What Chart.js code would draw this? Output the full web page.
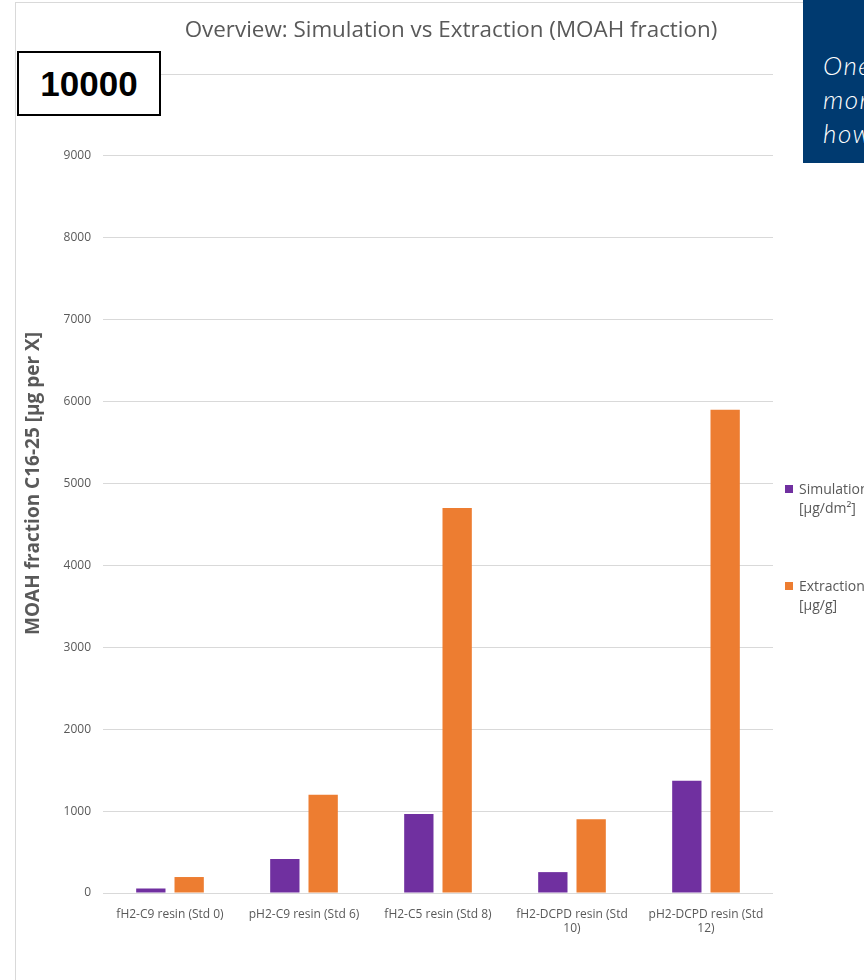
<!DOCTYPE html>
<html>
<head>
<meta charset="utf-8">
<script src="https://cdn.jsdelivr.net/npm/chart.js@4"></script>
<style>
  html, body { margin: 0; padding: 0; background: #fff; }
  body { width: 864px; height: 980px; overflow: hidden; position: relative; font-family: "Open Sans", sans-serif; }
  #frame { position: absolute; left: 15px; top: 2px; width: 900px; height: 1000px; border: 1px solid #d9d9d9; }
  #wrap { position: absolute; left: 0; top: 0; width: 786px; height: 980px; }
  #title { position: absolute; left: 0; width: 902px; top: 13px; text-align: center; font-size: 22.4px; color: #595959; }
  #maxbox { position: absolute; left: 17px; top: 51px; width: 140px; height: 61px; border: 2px solid #000; background: #fff;
            font-family: "Liberation Sans", Arial, sans-serif; font-weight: bold; font-size: 35px; line-height: 61px; text-align: center; color: #000; }
  #note { position: absolute; left: 803px; top: 0; width: 200px; height: 163px; background: #003a70; color: #fff;
          font-family: "Lato", sans-serif; font-style: italic; font-weight: 300; font-size: 26px; line-height: 34px;
          letter-spacing: 1.5px; padding: 48px 0 0 20px; box-sizing: border-box; white-space: nowrap; }
  #legend { position: absolute; left: 785px; top: 479px; font-size: 14px; color: #595959; line-height: 19px; }
  .item { position: relative; padding-left: 14px; width: 100px; }
  .item .sw { position: absolute; left: 0; top: 6px; width: 8px; height: 8px; }
</style>
</head>
<body>
<div id="frame"></div>
<div id="wrap"><canvas id="chart"></canvas></div>
<div id="title">Overview: Simulation vs Extraction (MOAH fraction)</div>
<div id="maxbox">10000</div>
<div id="note">One<br>more<br>how</div>
<div id="legend"></div>
<script>
// categories (wrapped the way the x axis shows them)
const categories = [
  "fH2-C9 resin (Std 0)",
  "pH2-C9 resin (Std 6)",
  "fH2-C5 resin (Std 8)",
  ["fH2-DCPD resin (Std", "10)"],
  ["pH2-DCPD resin (Std", "12)"],
];
const simulation = [55, 415, 965, 255, 1370];
const extraction = [195, 1200, 4700, 900, 5900];
const seriesNames = [["Simulation", "[µg/dm²]"], ["Extraction", "[µg/g]"]];
const seriesColors = ["#7030a0", "#ed7d31"];

const grey = "#595959";

const chart = new Chart(document.getElementById("chart"), {
  type: "bar",
  data: {
    labels: categories,
    datasets: [
      {
        label: seriesNames[0].join(" "),
        data: simulation,
        backgroundColor: seriesColors[0],
        categoryPercentage: 0.572,
        barPercentage: 0.765,
      },
      {
        label: seriesNames[1].join(" "),
        data: extraction,
        backgroundColor: seriesColors[1],
        categoryPercentage: 0.572,
        barPercentage: 0.765,
      },
    ],
  },
  options: {
    responsive: true,
    maintainAspectRatio: false,
    animation: false,
    layout: { padding: { top: 74, right: 13, bottom: 27, left: 0 } },
    plugins: {
      legend: { display: false },
      title: { display: false },
      tooltip: { enabled: false },
    },
    scales: {
      x: {
        grid: { display: false },
        border: { display: false },
        ticks: { color: grey, font: { family: "Open Sans", size: 12 }, padding: 6, maxRotation: 0, autoSkip: false },
        afterFit: (s) => { s.height = 60; },
      },
      y: {
        min: 0,
        max: 10000,
        ticks: {
          stepSize: 1000,
          color: grey,
          font: { family: "Open Sans", size: 12 },
          padding: 12,
          callback: (v) => String(v),
        },
        grid: { color: "#d9d9d9", drawTicks: false },
        border: { display: false },
        title: {
          display: true,
          text: "MOAH fraction C16-25 [µg per X]",
          color: grey,
          font: { family: "Open Sans", size: 19, weight: "bold" },
          padding: { top: 22, bottom: 0 },
        },
        afterFit: (s) => { s.width = 103; },
      },
    },
  },
});

// legend on the right, two lines per entry like the original
const legend = document.getElementById("legend");
seriesNames.forEach((name, i) => {
  const d = document.createElement("div");
  d.className = "item";
  d.style.marginBottom = i === 0 ? "59px" : "0";
  d.innerHTML = '<span class="sw" style="background:' + seriesColors[i] + '"></span>' + name[0] + "<br>" + name[1];
  legend.appendChild(d);
});
</script>
</body>
</html>
